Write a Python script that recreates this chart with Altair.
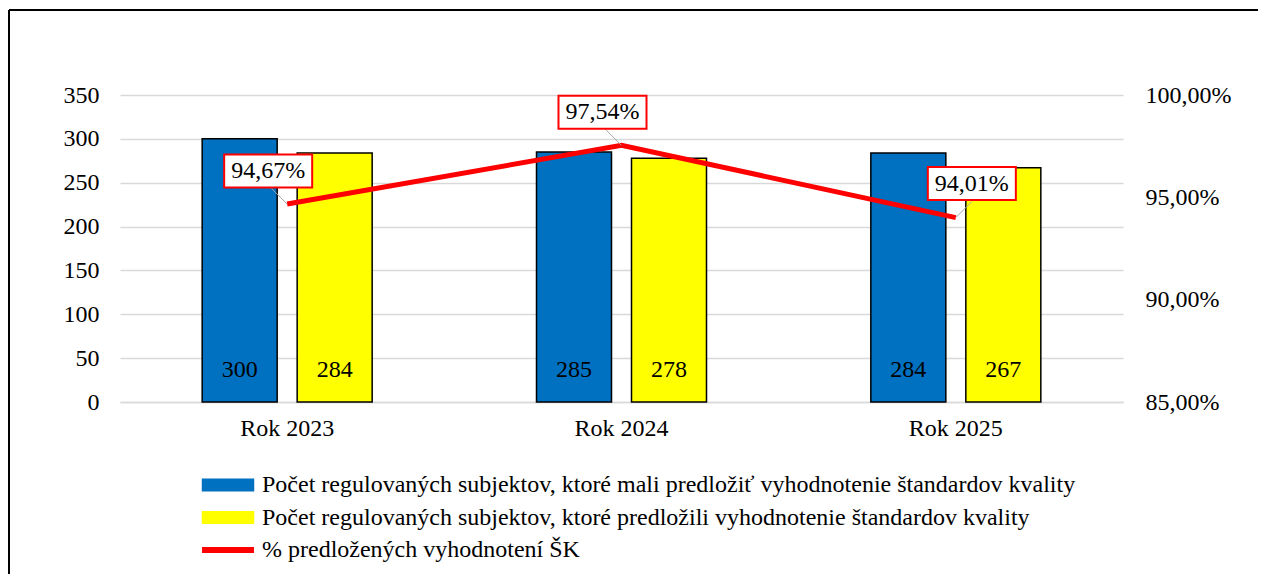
import altair as alt
import pandas as pd

years = ["Rok 2023", "Rok 2024", "Rok 2025"]
should_submit = [300, 285, 284]
submitted = [284, 278, 267]
pct = [94.67, 97.54, 94.01]
series = [
    "Počet regulovaných subjektov, ktoré mali predložiť vyhodnotenie štandardov kvality",
    "Počet regulovaných subjektov, ktoré predložili vyhodnotenie štandardov kvality",
    "% predložených vyhodnotení ŠK",
]
colors = ["#0070C0", "#FFFF00", "#FF0000"]
left_ticks = [0, 50, 100, 150, 200, 250, 300, 350]
right_ticks = [85, 90, 95, 100]

bars_df = pd.DataFrame({
    "year": years * 2,
    "series": [series[0]] * 3 + [series[1]] * 3,
    "value": should_submit + submitted,
})
line_df = pd.DataFrame({"year": years, "series": [series[2]] * 3, "pct": pct})
frame_df = pd.DataFrame({"k": [0]})

FONT = "Liberation Serif"
GRID = "#D9D9D9"

x_enc = alt.X(
    "year:N", sort=years,
    scale=alt.Scale(domain=years, paddingInner=0, paddingOuter=0),
    axis=alt.Axis(title=None, labelAngle=0, labelFontSize=24, labelFont=FONT,
                  labelColor="black", ticks=False, domainColor=GRID,
                  domainWidth=1.5, labelPadding=14, grid=False),
)


def y_left(field):
    return alt.Y(
        f"{field}:Q",
        scale=alt.Scale(domain=[0, 350], nice=False, zero=True),
        axis=alt.Axis(values=left_ticks, title=None, orient="left",
                      labelFontSize=24, labelFont=FONT, labelColor="black",
                      domain=False, ticks=False, labelPadding=21,
                      gridColor=GRID, gridWidth=1.5),
    )


y_right = alt.Y(
    "pct:Q",
    scale=alt.Scale(domain=[85, 100], nice=False, zero=False),
    axis=alt.Axis(values=right_ticks, title=None, orient="right",
                  labelExpr="replace(format(datum.value, '.2f'), '.', ',') + '%'",
                  labelFontSize=24, labelFont=FONT, labelColor="black",
                  domain=False, ticks=False, grid=False, labelPadding=22,
                  labelAlign="left"),
)

rect_path = "M-3.64,-0.82L3.64,-0.82L3.64,0.82L-3.64,0.82Z"
line_path = "M-3.6,-0.32L3.6,-0.32L3.6,0.32L-3.6,0.32Z"

legend = alt.Legend(
    title=None, orient="none", legendX=96, legendY=378, direction="vertical",
    symbolSize=196, labelFont=FONT, labelFontSize=24, labelColor="black",
    labelLimit=2000, labelOffset=22, rowPadding=8.5, padding=0,
    symbolOpacity=1, symbolStrokeWidth=1.5,
    symbolType={"expr": f"datum.value === '{series[2]}' ? '{line_path}' : '{rect_path}'"},
    symbolStrokeColor={"expr": f"datum.value === '{series[2]}' ? '{colors[2]}' : '#000000'"},
)

color_scale = alt.Scale(domain=series, range=colors)
color_enc = alt.Color("series:N", scale=color_scale, legend=legend)

bar_a = alt.Chart(bars_df).transform_filter(alt.datum.series == series[0]).mark_bar(
    width=75, xOffset=-47.5, stroke="black", strokeWidth=1.5, opacity=1
).encode(x=x_enc, y=y_left("value"), color=color_enc)

bar_b = alt.Chart(bars_df).transform_filter(alt.datum.series == series[1]).mark_bar(
    width=75, xOffset=47.5, stroke="black", strokeWidth=1.5, opacity=1
).encode(x=x_enc, y=y_left("value"), color=color_enc)

txt_a = alt.Chart(bars_df).transform_filter(alt.datum.series == series[0]).transform_calculate(
    base="0"
).mark_text(xOffset=-47.5, dy=-32, fontSize=24, font=FONT, color="black", baseline="middle").encode(
    x=x_enc, y=y_left("base"), text="value:Q")

txt_b = alt.Chart(bars_df).transform_filter(alt.datum.series == series[1]).transform_calculate(
    base="0"
).mark_text(xOffset=47.5, dy=-32, fontSize=24, font=FONT, color="black", baseline="middle").encode(
    x=x_enc, y=y_left("base"), text="value:Q")

top_rule = alt.Chart(frame_df).mark_rule(color="black", strokeWidth=2).encode(
    x=alt.value(-111), x2=alt.value(1300), y=alt.value(-85))
left_rule = alt.Chart(frame_df).mark_rule(color="black", strokeWidth=2).encode(
    x=alt.value(-111), y=alt.value(-85), y2=alt.value(700))

line = alt.Chart(line_df).mark_line(strokeWidth=5).encode(x=x_enc, y=y_right, color=color_enc)

left_sel = alt.datum.year != years[2]
right_sel = alt.datum.year == years[2]

lead_l = alt.Chart(line_df).transform_filter(left_sel).mark_point(
    shape="M0,0L-1,-1", size=1024, filled=False, stroke="#A6A6A6", strokeWidth=1, opacity=1
).encode(x=x_enc, y=y_right)
lead_r = alt.Chart(line_df).transform_filter(right_sel).mark_point(
    shape="M0,0L1,-1", size=1024, filled=False, stroke="#A6A6A6", strokeWidth=1, opacity=1
).encode(x=x_enc, y=y_right)

box_path = "M-0.978,-0.367L0.978,-0.367L0.978,0.367L-0.978,0.367Z"
box_l = alt.Chart(line_df).transform_filter(left_sel).mark_point(
    shape=box_path, size=8100, filled=True, fill="white", stroke="#FF0000",
    strokeWidth=2, opacity=1, xOffset=-19, yOffset=-33
).encode(x=x_enc, y=y_right)
box_r = alt.Chart(line_df).transform_filter(right_sel).mark_point(
    shape=box_path, size=8100, filled=True, fill="white", stroke="#FF0000",
    strokeWidth=2, opacity=1, xOffset=16, yOffset=-34
).encode(x=x_enc, y=y_right)

lab_expr = "replace(format(datum.pct, '.2f'), '.', ',') + '%'"
lbl_l = alt.Chart(line_df).transform_filter(left_sel).transform_calculate(label=lab_expr).mark_text(
    fontSize=24, font=FONT, color="black", xOffset=-19, yOffset=-33, baseline="middle"
).encode(x=x_enc, y=y_right, text="label:N")
lbl_r = alt.Chart(line_df).transform_filter(right_sel).transform_calculate(label=lab_expr).mark_text(
    fontSize=24, font=FONT, color="black", xOffset=16, yOffset=-34, baseline="middle"
).encode(x=x_enc, y=y_right, text="label:N")

left = alt.layer(bar_a, bar_b, txt_a, txt_b, top_rule, left_rule)
right = alt.layer(line, lead_l, lead_r, box_l, box_r, lbl_l, lbl_r)

chart = alt.layer(left, right).resolve_scale(y="independent").properties(
    width=1003, height=307,
    autosize=alt.AutoSizeParams(type="none"),
    padding={"left": 112, "top": 87, "right": 135, "bottom": 172},
).configure(font=FONT, background="white").configure_view(
    stroke="transparent", strokeWidth=0
).configure_legend(
    labelFont=FONT, labelFontSize=24, labelColor="black",
    symbolStrokeWidth=1.5, labelLimit=2000
)

chart.save("out.html", embed_options={"renderer": "svg", "actions": False})
